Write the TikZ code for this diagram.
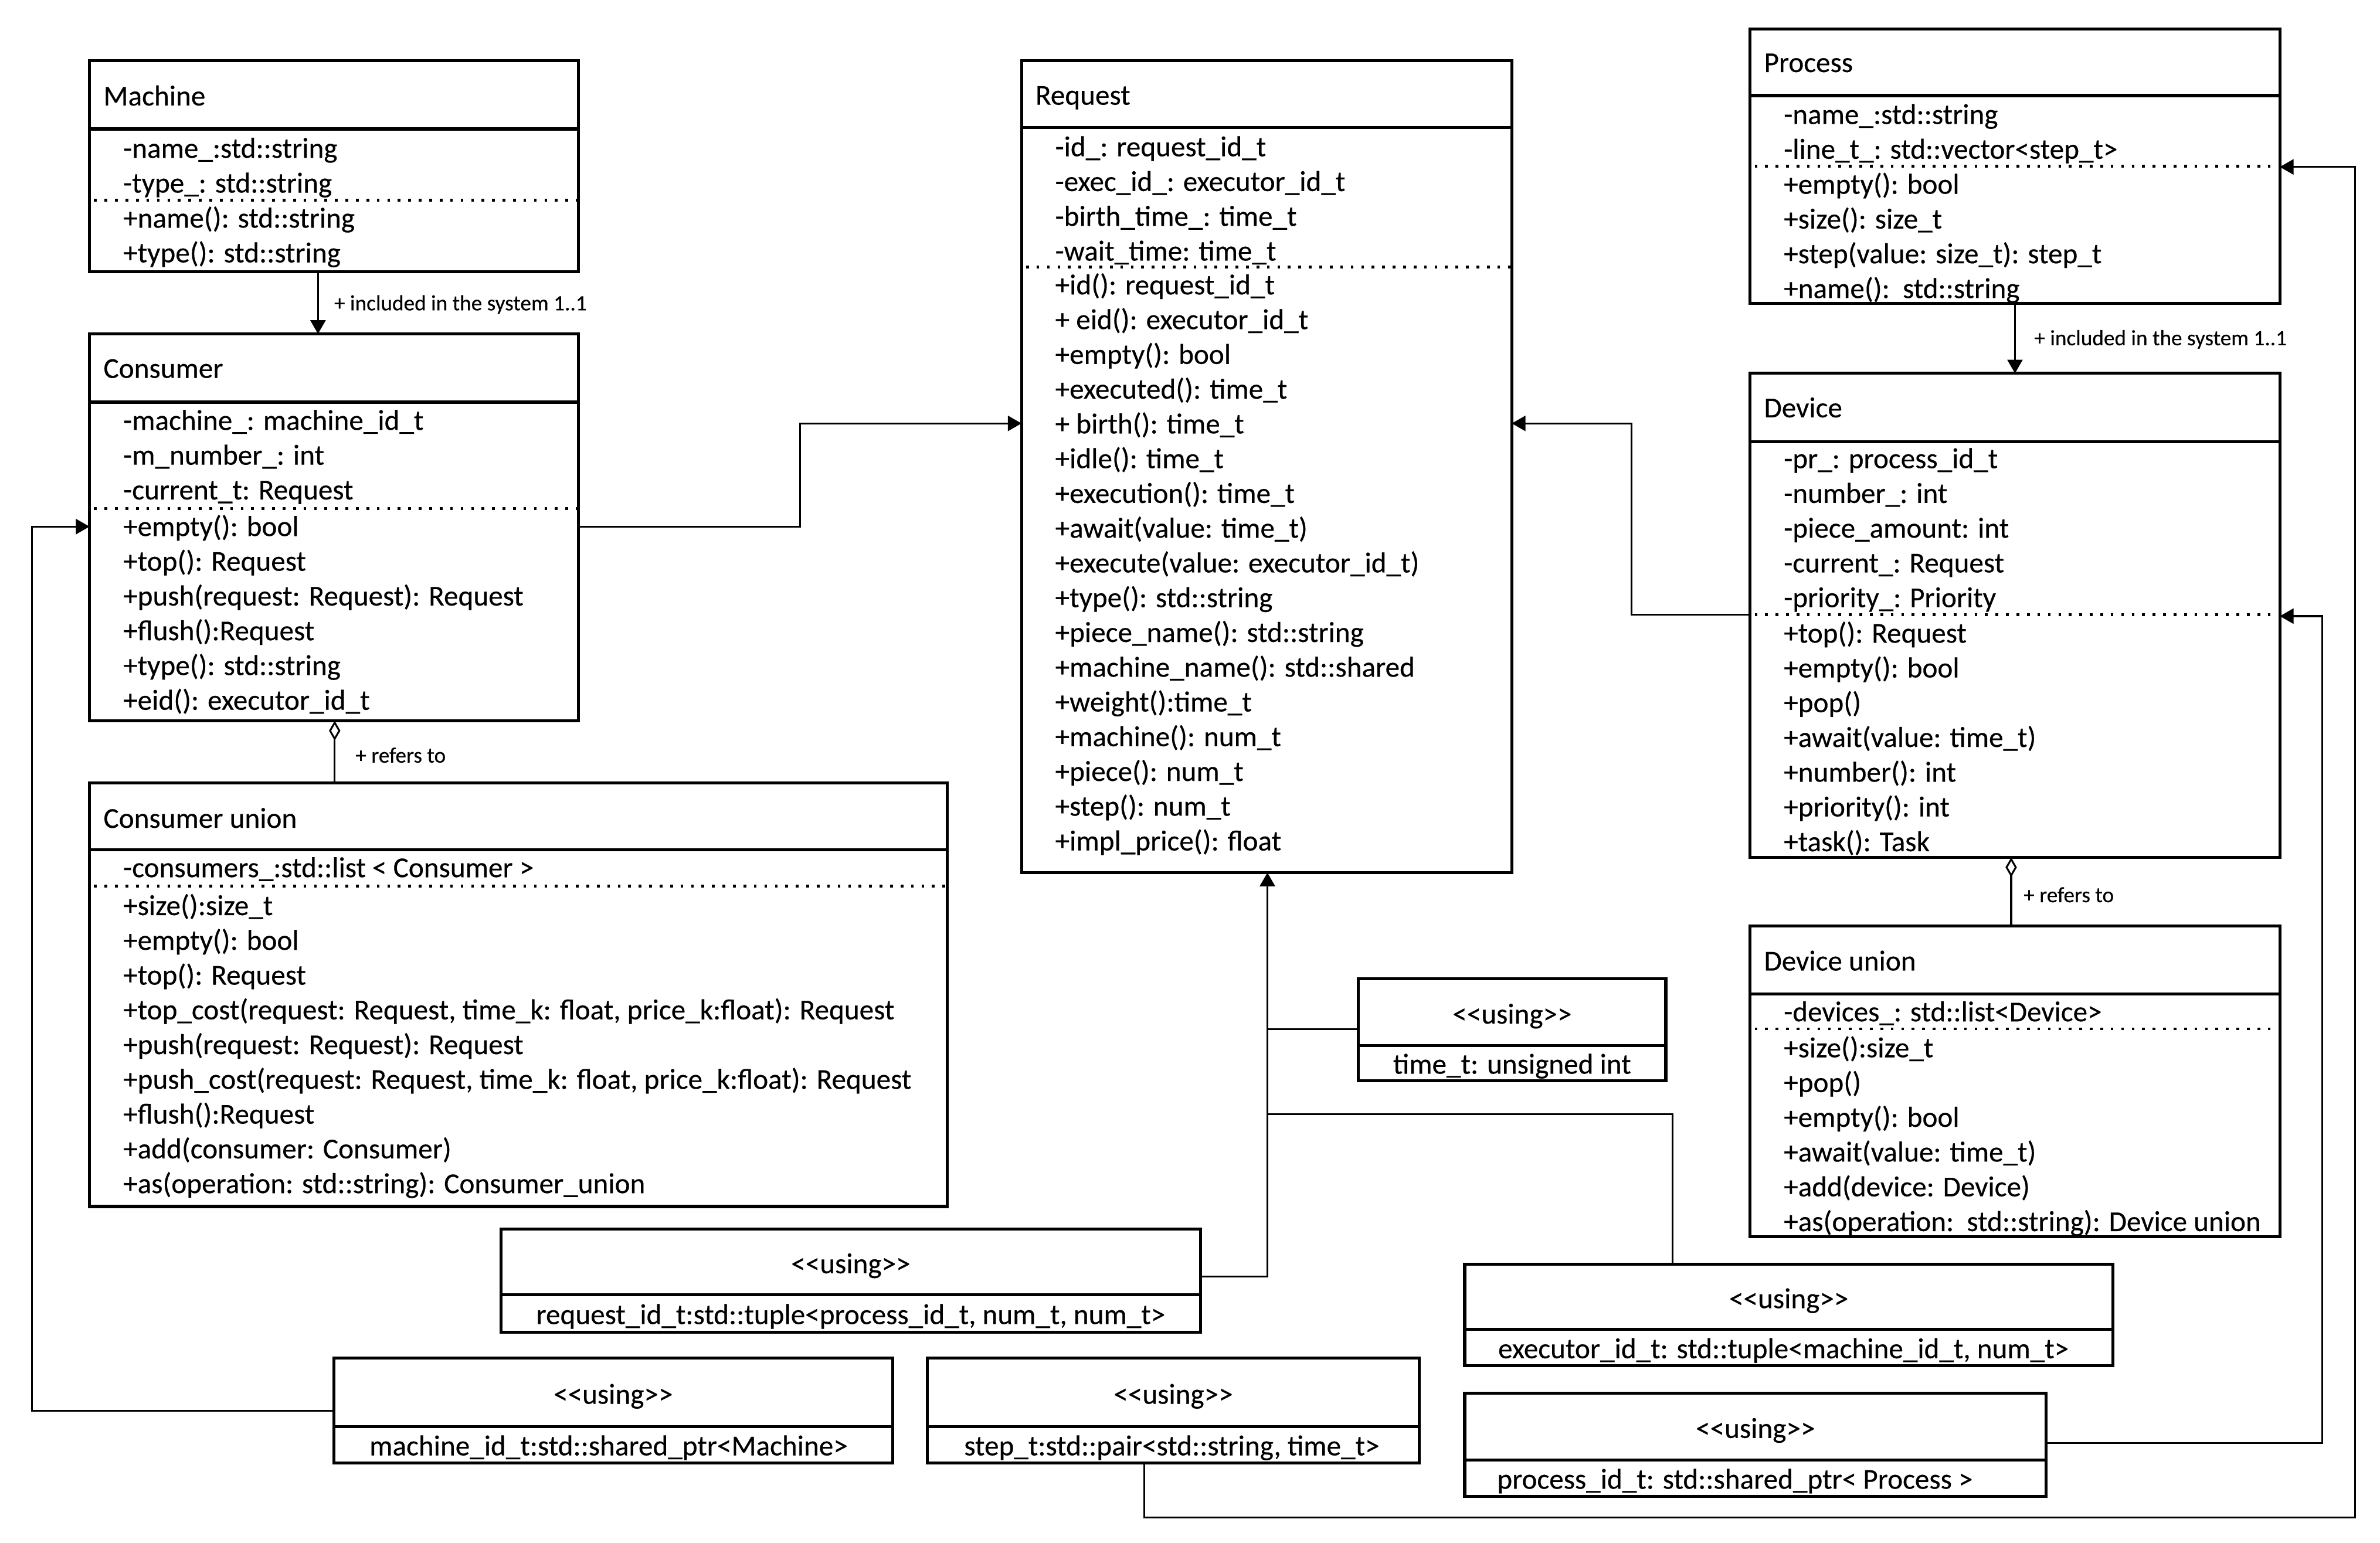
\documentclass[tikz,border=0pt]{standalone}
\usepackage{fontspec}
\setmainfont{Carlito}[FakeBold=0.35,BoldFont=Carlito]
\usetikzlibrary{arrows.meta}
\tikzset{
  classbox/.style={draw, rectangle, line width=2pt, inner sep=0pt, outer sep=0pt, anchor=north west},
  sepline/.style={line width=2pt},
  dotline/.style={line width=1.8pt, dash pattern=on 1.8pt off 5.1pt},
  rowtext/.style={anchor=base west, inner sep=0pt, font=\fontsize{19}{23}\selectfont\bfseries},
  ctrtext/.style={anchor=base, inner sep=0pt, font=\fontsize{19}{23}\selectfont\bfseries},
  lbltext/.style={anchor=base west, inner sep=0pt, font=\fontsize{14.4}{16}\selectfont\bfseries},
  conn/.style={line width=1.2pt},
  assoc/.style={conn, -{Triangle[length=9pt,width=10pt]}},
  aggr/.style={conn, {Diamond[open,length=13pt,width=7.5pt]}-},
}
% class box: name, x1, y1, x2, y2, header line y, dotted line y
\newcommand\umlclass[7]{%
  \node[classbox, minimum width={(#4-#2)*1pt}, minimum height={(#5-#3)*1pt}] (#1) at (#2,#3) {};
  \draw[sepline] (#2,#6) -- (#4,#6);
  \draw[dotline] ({#2+3},#7) -- (#4,#7);
}
% rows: name prefix, x, first row centre y, list
\newcommand\umlrows[4]{%
  \foreach \rowtxt [count=\i] in {#4} {\node[rowtext] (#1\i) at (#2,{#3+6+(\i-1)*22.9}) {\rowtxt};}
}
% using box: name, x1, y1, x2, y2, divider y, text centre x, text
\newcommand\umlusing[8]{%
  \node[classbox, minimum width={(#4-#2)*1pt}, minimum height={(#5-#3)*1pt}] (#1) at (#2,#3) {};
  \draw[sepline] (#2,#6) -- (#4,#6);
  \node[ctrtext] (#1st) at ({(#2+#4)/2},{(#3+#6)/2+7.5}) {<\kern0pt<using>\kern0pt>};
  \node[ctrtext] (#1tx) at (#7,{(#6+#5)/2+7}) {#8};
}
\begin{document}
\begin{tikzpicture}[x=1pt,y=-1pt]
\useasboundingbox (0,0) rectangle (1568,1016.7);
\fill[white] (0,0) rectangle (1568,1016.7);

% ---------- Machine
\umlclass{machine}{59}{40}{381}{179}{85}{132}
\node[rowtext] (machineT) at (68,69.5) {Machine};
\umlrows{machineA}{81}{98}{-name\_:std::string,-type\_: std::string}
\umlrows{machineM}{81}{144}{+name(): std::string,+type(): std::string}

% ---------- Consumer
\umlclass{consumer}{59}{220}{381}{475}{265}{335}
\node[rowtext] (consumerT) at (68,249) {Consumer};
\umlrows{consumerA}{81}{277.3}{-machine\_: machine\_id\_t,-m\_number\_: int,-current\_t: Request}
\umlrows{consumerM}{81}{347.2}{+empty(): bool,+top(): Request,+push(request: Request): Request,+flush():Request,+type(): std::string,+eid(): executor\_id\_t}

% ---------- Consumer union
\umlclass{cunion}{59}{516}{624}{795}{560}{584}
\node[rowtext] (cunionT) at (68,545.5) {Consumer union};
\umlrows{cunionA}{81}{572}{-consumers\_:std::list < Consumer >}
\umlrows{cunionM}{81}{597}{+size():size\_t,+empty(): bool,+top(): Request,{+top\_cost(request: Request, time\_k: float, price\_k:float): Request},+push(request: Request): Request,{+push\_cost(request: Request, time\_k: float, price\_k:float): Request},+flush():Request,+add(consumer: Consumer),+as(operation: std::string): Consumer\_union}

% ---------- Request
\umlclass{request}{673}{40}{996}{575}{84}{176}
\node[rowtext] (requestT) at (682,69) {Request};
\umlrows{requestA}{695}{97}{-id\_: request\_id\_t,-exec\_id\_: executor\_id\_t,-birth\_time\_: time\_t,-wait\_time: time\_t}
\umlrows{requestM}{695}{188}{+id(): request\_id\_t,+ eid(): executor\_id\_t,+empty(): bool,+executed(): time\_t,+ birth(): time\_t,+idle(): time\_t,+execution(): time\_t,+await(value: time\_t),+execute(value: executor\_id\_t),+type(): std::string,+piece\_name(): std::string,+machine\_name(): std::shared,+weight():time\_t,+machine(): num\_t,+piece(): num\_t,+step(): num\_t,+impl\_price(): float}

% ---------- Process
\umlclass{process}{1153}{19}{1502}{200}{63}{109.5}
\node[rowtext] (processT) at (1162,47.5) {Process};
\umlrows{processA}{1175}{75.7}{-name\_:std::string,-line\_t\_: std::vector<step\_t>}
\umlrows{processM}{1175}{121.7}{+empty(): bool,+size(): size\_t,+step(value: size\_t): step\_t,+name():\ \ std::string}

% ---------- Device
\umlclass{device}{1153}{246}{1502}{565}{291}{405}
\node[rowtext] (deviceT) at (1162,275) {Device};
\umlrows{deviceA}{1175}{302.5}{-pr\_: process\_id\_t,-number\_: int,-piece\_amount: int,-current\_: Request,-priority\_: Priority}
\umlrows{deviceM}{1175}{417.5}{+top(): Request,+empty(): bool,+pop(),+await(value: time\_t),+number(): int,+priority(): int,+task(): Task}

% ---------- Device union
\umlclass{dunion}{1153}{610}{1502}{815}{655}{678}
\node[rowtext] (dunionT) at (1162,639.5) {Device union};
\umlrows{dunionA}{1175}{667}{-devices\_: std::list<Device>}
\umlrows{dunionM}{1175}{690.7}{+size():size\_t,+pop(),+empty(): bool,+await(value: time\_t),+add(device: Device),+as(operation:\ \ std::string): Device union}

% ---------- using boxes
\umlusing{ureq}{330}{810}{791}{878}{853}{560.5}{request\_id\_t:std::tuple<process\_id\_t, num\_t, num\_t>}
\umlusing{utime}{895}{645}{1097.5}{712}{689}{996.2}{time\_t: unsigned int}
\umlusing{uexec}{965}{833}{1392}{900}{876}{1175}{executor\_id\_t: std::tuple<machine\_id\_t, num\_t>}
\umlusing{umach}{220}{895}{588}{964}{940}{401}{machine\_id\_t:std::shared\_ptr<Machine>}
\umlusing{ustep}{611}{895}{935}{964}{940}{772}{step\_t:std::pair<std::string, time\_t>}
\umlusing{uproc}{965}{918}{1348}{986}{962}{1143}{process\_id\_t: std::shared\_ptr< Process >}

% ---------- bend coordinates
\coordinate (k1) at (527,347);
\coordinate (k2) at (527,279);
\coordinate (k3) at (1075,405);
\coordinate (k4) at (1075,279);
\coordinate (k5) at (21,929.5);
\coordinate (k6) at (21,347);
\coordinate (k7) at (835,841);
\coordinate (k8) at (835,678);
\coordinate (k9) at (1102,734);
\coordinate (k10) at (835,734);
\coordinate (k11) at (754,1000);
\coordinate (k12) at (1551.5,1000);
\coordinate (k13) at (1551.5,110);
\coordinate (k14) at (1530,951);
\coordinate (k15) at (1530,406);
\coordinate (k16) at (209.5,0);
\coordinate (k17) at (1327.5,0);
\coordinate (k18) at (220.5,0);
\coordinate (k19) at (1325,0);

% ---------- connectors
\draw[assoc] (machine.south -| k16) -- (consumer.north -| k16);
\node[lbltext] (lbl1) at (220,204.5) {+ included in the system 1..1};
\draw[assoc] (process.south -| k17) -- (device.north -| k17);
\node[lbltext] (lbl2) at (1340,227.5) {+ included in the system 1..1};
\draw[aggr] (consumer.south -| k18) -- (cunion.north -| k18);
\node[lbltext] (lbl3) at (234,502.5) {+ refers to};
\draw[aggr] (device.south -| k19) -- (dunion.north -| k19);
\node[lbltext] (lbl4) at (1333,594.5) {+ refers to};

\draw[assoc] (consumer.east |- k1) -- (k1) -- (k2) -- (request.west |- k2);
\draw[assoc] (device.west |- k3) -- (k3) -- (k4) -- (request.east |- k4);
\draw[assoc] (umach.west |- k5) -- (k5) -- (k6) -- (consumer.west |- k6);
\draw[assoc] (ureq.east |- k7) -- (k7) -- (request.south -| k7);
\draw[conn] (utime.west |- k8) -- (k8);
\draw[conn] (uexec.north -| k9) -- (k9) -- (k10);
\draw[assoc] (ustep.south -| k11) -- (k11) -- (k12) -- (k13) -- (process.east |- k13);
\draw[assoc] (uproc.east |- k14) -- (k14) -- (k15) -- (device.east |- k15);
\end{tikzpicture}
\end{document}
